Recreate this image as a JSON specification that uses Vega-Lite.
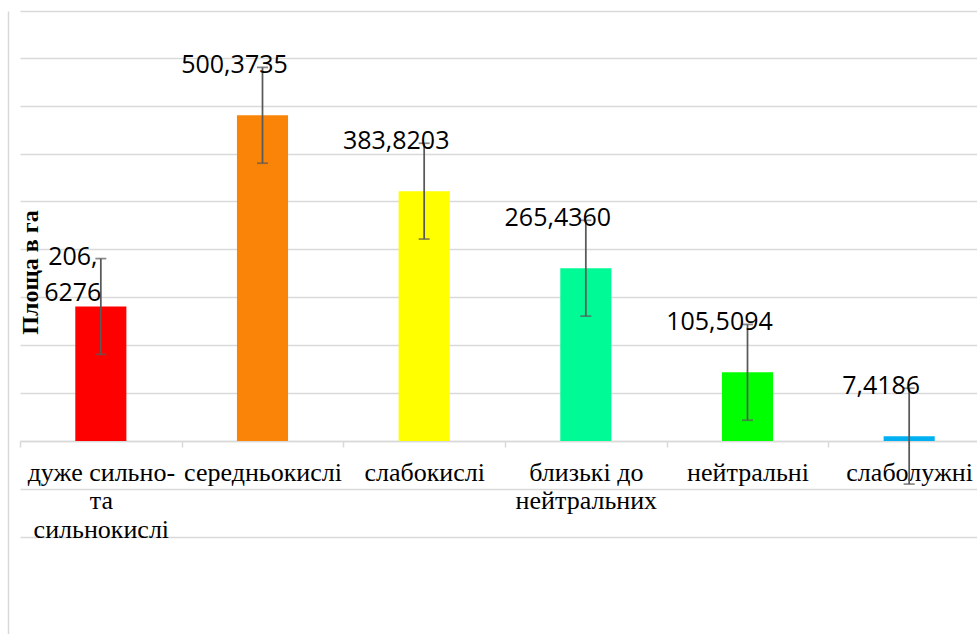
{
  "$schema": "https://vega.github.io/schema/vega-lite/v6.json",
  "width": 957,
  "height": 623,
  "autosize": {"type": "none"},
  "padding": {"left": 20, "top": 11, "right": 0, "bottom": 0},
  "background": "white",
  "config": {"view": {"stroke": null}},
  "data": {
    "values": [
      {"cat": "дуже сильно-\nта\nсильнокислі", "value": 206.6276, "lo": 133.03, "hi": 280.23, "label": "206,\n6276"},
      {"cat": "середньокислі", "value": 500.3735, "lo": 426.77, "hi": 573.97, "label": "500,3735"},
      {"cat": "слабокислі", "value": 383.8203, "lo": 310.22, "hi": 457.42, "label": "383,8203"},
      {"cat": "близькі до\nнейтральних", "value": 265.436, "lo": 191.84, "hi": 339.04, "label": "265,4360"},
      {"cat": "нейтральні", "value": 105.5094, "lo": 31.91, "hi": 179.11, "label": "105,5094"},
      {"cat": "слаболужні", "value": 7.4186, "lo": -66.18, "hi": 81.02, "label": "7,4186"}
    ]
  },
  "encoding": {
    "x": {
      "field": "cat",
      "type": "nominal",
      "sort": null,
      "scale": {"range": [0, 970], "paddingInner": 0.684, "paddingOuter": 0.342},
      "axis": {
        "title": null,
        "orient": "bottom",
        "offset": -193,
        "grid": false,
        "domainColor": "#d9d9d9",
        "domainWidth": 1.5,
        "tickColor": "#d9d9d9",
        "tickWidth": 1.5,
        "tickSize": 6,
        "bandPosition": 0.5,
        "tickOffset": -80.8,
        "labelOffset": 80.8,
        "labelFont": "Liberation Serif",
        "labelFontSize": 26,
        "labelColor": "black",
        "labelAngle": 0,
        "labelAlign": "center",
        "labelBaseline": "alphabetic",
        "labelPadding": 33,
        "labelLineHeight": 28.5,
        "labelLimit": 0,
        "labelOverlap": false,
        "labelFlush": false,
        "labelExpr": "split(datum.value, '\\n')"
      }
    }
  },
  "layer": [
    {
      "mark": {"type": "bar"},
      "encoding": {
        "y": {
          "field": "value",
          "type": "quantitative",
          "scale": {"domain": [-296.5, 660.6], "nice": false, "zero": false},
          "axis": {
            "title": "Площа в га",
            "titleFont": "Liberation Serif",
            "titleFontSize": 24,
            "titleFontWeight": "bold",
            "titleColor": "black",
            "titleAngle": -90,
            "titleX": 29,
            "titleY": 261,
            "titleAlign": "center",
            "titleBaseline": "alphabetic",
            "values": [-147.2, -73.6, 0, 73.6, 147.2, 220.8, 294.4, 368, 441.6, 515.2, 588.8, 660.6],
            "labels": false,
            "ticks": false,
            "grid": true,
            "gridColor": "#d9d9d9",
            "gridWidth": 1.5,
            "domain": true,
            "domainColor": "#d9d9d9",
            "domainWidth": 1.5,
            "offset": 12
          }
        },
        "color": {
          "field": "cat",
          "type": "nominal",
          "scale": {
            "domain": ["дуже сильно-\nта\nсильнокислі", "середньокислі", "слабокислі", "близькі до\nнейтральних", "нейтральні", "слаболужні"],
            "range": ["#FF0000", "#FA8407", "#FFFF00", "#00FA96", "#00FF00", "#00B0F0"]
          },
          "legend": null
        }
      }
    },
    {
      "mark": {"type": "rule", "color": "#595959", "strokeWidth": 1.75},
      "encoding": {
        "y": {"field": "lo", "type": "quantitative"},
        "y2": {"field": "hi"}
      }
    },
    {
      "mark": {"type": "tick", "color": "#595959", "thickness": 1.75, "size": 11},
      "encoding": {"y": {"field": "lo", "type": "quantitative"}}
    },
    {
      "mark": {"type": "tick", "color": "#595959", "thickness": 1.75, "size": 11},
      "encoding": {"y": {"field": "hi", "type": "quantitative"}}
    },
    {
      "mark": {"type": "text", "font": "Open Sans", "fontSize": 25, "color": "black", "dx": -28, "dy": 6, "align": "center", "baseline": "alphabetic", "lineBreak": "\n", "lineHeight": 36},
      "encoding": {
        "y": {"field": "hi", "type": "quantitative"},
        "text": {"field": "label"}
      }
    }
  ]
}
